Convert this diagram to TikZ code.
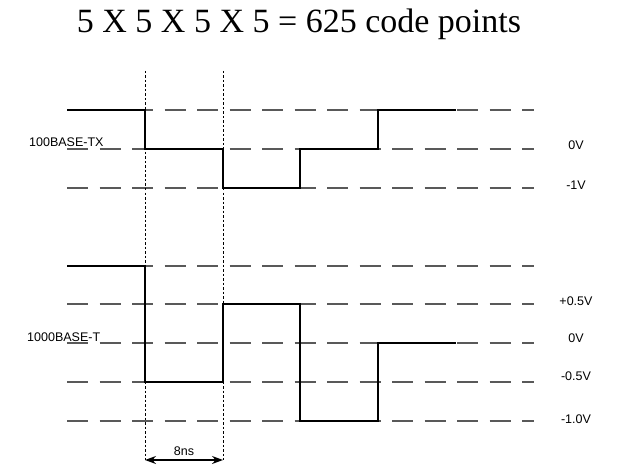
\documentclass[tikz,border=0pt]{standalone}
\usepackage{fontspec}
\setmainfont{Liberation Serif}
\setsansfont{Liberation Sans}
\usetikzlibrary{arrows.meta}

\begin{document}
\begin{tikzpicture}[x=1pt,y=-1pt,
    level/.style={draw=black!65,line width=1.5pt,dash pattern=on 21pt off 11.5pt},
    tick/.style={draw=black,line width=1pt,dash pattern=on 2.5pt off 2pt},
    wave/.style={draw=black,line width=2.5pt},
    lbl/.style={font=\sffamily\fontsize{12.5}{14}\selectfont,inner sep=0pt}]
  \useasboundingbox (0,0) rectangle (640,476);
  \node[font=\fontsize{34}{36}\selectfont,anchor=base] (title) at (299,33) {5 X 5 X 5 X 5 = 625 code points};
  % signal levels
  \foreach \y in {110,149,188,266,304,343,382,421}
    \draw[level] (67,\y) -- (534,\y);
  % symbol period
  \coordinate (t1) at (145,460);
  \coordinate (t2) at (223,460);
  \draw[tick] (145,71) -- (t1);
  \draw[tick] (223,71) -- (t2);
  \draw[{Stealth[length=11pt,width=8pt]}-{Stealth[length=11pt,width=8pt]},line width=1.2pt] (t1) -- (t2)
    node[lbl,midway,above=4pt] (ns) {8ns};
  % waveforms
  \draw[wave] (67,110) -| (145,149) -| (223,188) -| (300,149) -| (378,110) -- (456,110);
  \draw[wave] (67,266) -| (145,382) -| (223,304) -| (300,421) -| (378,343) -- (456,343);
  \begin{scope}[every node/.style={lbl}]
    \node[anchor=west] (tx) at (29,142) {100BASE-TX};
    \node[anchor=west] (gt) at (27,337) {1000BASE-T};
    \node (a0) at (576,145) {0V};
    \node (a1) at (576,185) {-1V};
    \node (b1) at (576,301) {+0.5V};
    \node (b2) at (576,338) {0V};
    \node (b3) at (576,376) {-0.5V};
    \node (b4) at (576,419) {-1.0V};
  \end{scope}
\end{tikzpicture}
\end{document}
